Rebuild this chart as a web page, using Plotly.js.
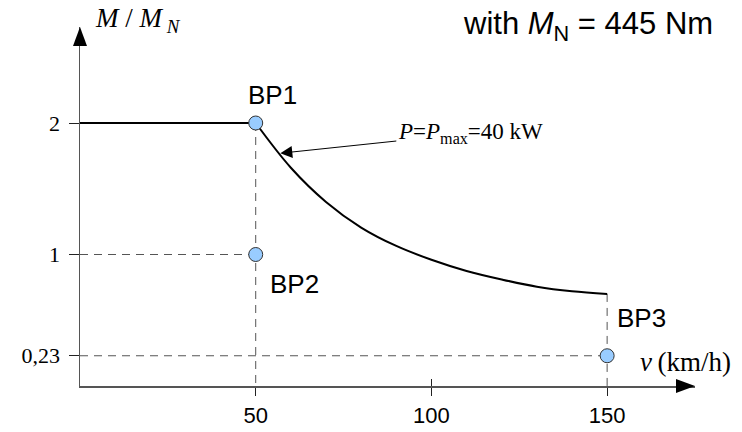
<!DOCTYPE html>
<html>
<head>
<meta charset="utf-8">
<script src="https://cdn.plot.ly/plotly-3.0.1.min.js"></script>
<style>html,body{margin:0;padding:0;background:#fff;}#chart{width:742px;height:432px;}</style>
</head>
<body>
<div id="chart"></div>
<script>
// ---- data ----
var flatSpeed = [0, 50];
var flatTorque = [2, 2];
var curveSpeed = [50, 60, 70, 80, 90, 100, 110, 120, 130, 140, 150];
var curveTorque = [2.00, 1.66, 1.40, 1.205, 1.065, 0.96, 0.875, 0.81, 0.755, 0.72, 0.70];
var bpNames = ['BP1', 'BP2', 'BP3'];
var bpSpeed = [50, 50, 150];
var bpTorque = [2, 1, 0.23];
var xTickVals = [50, 100, 150];
var xTickText = ['50', '100', '150'];
var yTickVals = [0.23, 1, 2];
var yTickText = ['0,23', '1', '2'];

var serif = 'Liberation Serif, Times New Roman, serif';
var sans = 'Liberation Sans, Arial, sans-serif';

// dashed guide lines derived from the breakpoints
var endTorque = curveTorque[curveTorque.length - 1];
var guideX = [bpSpeed[0], bpSpeed[0], null, 0, bpSpeed[1], null, 0, bpSpeed[2], null, bpSpeed[2], bpSpeed[2]];
var guideY = [bpTorque[0], 0, null, bpTorque[1], bpTorque[1], null, bpTorque[2], bpTorque[2], null, endTorque, 0];

var traces = [
  {x: guideX, y: guideY, mode: 'lines', line: {color: '#555', width: 1, dash: '8px,6px'}, hoverinfo: 'skip', showlegend: false},
  {x: flatSpeed, y: flatTorque, mode: 'lines', line: {color: '#000', width: 2}, showlegend: false},
  {x: curveSpeed, y: curveTorque, mode: 'lines', line: {color: '#000', width: 2, shape: 'spline', smoothing: 1}, showlegend: false},
  {x: bpSpeed, y: bpTorque, mode: 'markers', marker: {size: 14, color: '#99CCFF', line: {color: '#333', width: 1}}, cliponaxis: false, showlegend: false},
  {x: [100], y: [0], xaxis: 'x2', mode: 'markers', marker: {opacity: 0}, hoverinfo: 'skip', showlegend: false}
];

var innerTicks = xTickVals.filter(function (v) { return bpSpeed.indexOf(v) < 0; });

var bpShift = [[17, 28], [39, -29], [34, 38]];
var annotations = bpNames.map(function (n, i) {
  return {x: bpSpeed[i], y: bpTorque[i], text: n, showarrow: false, xshift: bpShift[i][0], yshift: bpShift[i][1],
          font: {family: sans, size: 26, color: '#000'}};
});
annotations.push(
  {x: 57, y: 1.77, ax: 190, ay: -20, text: '<i>P</i>=<i>P</i><sub>max</sub>=40 kW', showarrow: true, arrowhead: 2, arrowsize: 2.4, arrowwidth: 1, arrowcolor: '#000',
   font: {family: serif, size: 23, color: '#000'}},
  {xref: 'paper', yref: 'paper', x: 0.021, y: 1.02, xanchor: 'left', yanchor: 'middle', showarrow: false,
   text: '<i>M</i> / <i>M</i><sub> <i>N</i></sub>', font: {family: serif, size: 27, color: '#000'}},
  {xref: 'paper', yref: 'paper', x: 1.0325, y: 1.003, xanchor: 'right', yanchor: 'middle', showarrow: false,
   text: 'with <i>M</i><sub>N</sub> = 445 Nm', font: {family: sans, size: 31, color: '#000'}},
  {xref: 'paper', yref: 'paper', x: 0.984, y: 0.067, xanchor: 'center', yanchor: 'middle', showarrow: false,
   text: '<i>v</i>\u2009(km/h)', font: {family: serif, size: 27, color: '#000'}}
);

// axis arrowheads (pixel-sized, anchored to the axis ends)
var shapes = [
  {type: 'path', xref: 'paper', yref: 'paper', xsizemode: 'pixel', ysizemode: 'pixel', xanchor: 0, yanchor: 1,
   path: 'M0,0 L-7,-19 L7,-19 Z', fillcolor: '#000', line: {width: 0}},
  {type: 'path', xref: 'paper', yref: 'paper', xsizemode: 'pixel', ysizemode: 'pixel', xanchor: 1, yanchor: 0,
   path: 'M0,0 L-19,7 L-19,-7 Z', fillcolor: '#000', line: {width: 0}}
];

var layout = {
  width: 742, height: 432,
  margin: {l: 80, r: 47, t: 27, b: 46},
  paper_bgcolor: '#fff', plot_bgcolor: '#fff',
  xaxis: {range: [0, 175], showline: true, linecolor: '#555', linewidth: 1.5, showgrid: false, zeroline: false,
          ticks: 'outside', ticklen: 8, tickwidth: 1, tickcolor: '#222', tickvals: xTickVals, ticktext: xTickText,
          tickfont: {family: sans, size: 22, color: '#000'}, ticklabelstandoff: 1, fixedrange: true},
  xaxis2: {range: [0, 175], overlaying: 'x', anchor: 'y', side: 'bottom', showline: false, showgrid: false, zeroline: false,
           ticks: 'inside', ticklen: 7, tickwidth: 1, tickcolor: '#222', tickvals: innerTicks, showticklabels: false},
  yaxis: {range: [0, 2.73], showline: true, linecolor: '#555', linewidth: 1.5, showgrid: false, zeroline: false,
          ticks: 'outside', ticklen: 10, tickwidth: 1, tickcolor: '#222', tickvals: yTickVals, ticktext: yTickText,
          tickfont: {family: serif, size: 22, color: '#000'}, ticklabelstandoff: 4, fixedrange: true},
  annotations: annotations,
  shapes: shapes,
  showlegend: false
};

Plotly.newPlot('chart', traces, layout, {staticPlot: true, displayModeBar: false});
</script>
</body>
</html>
